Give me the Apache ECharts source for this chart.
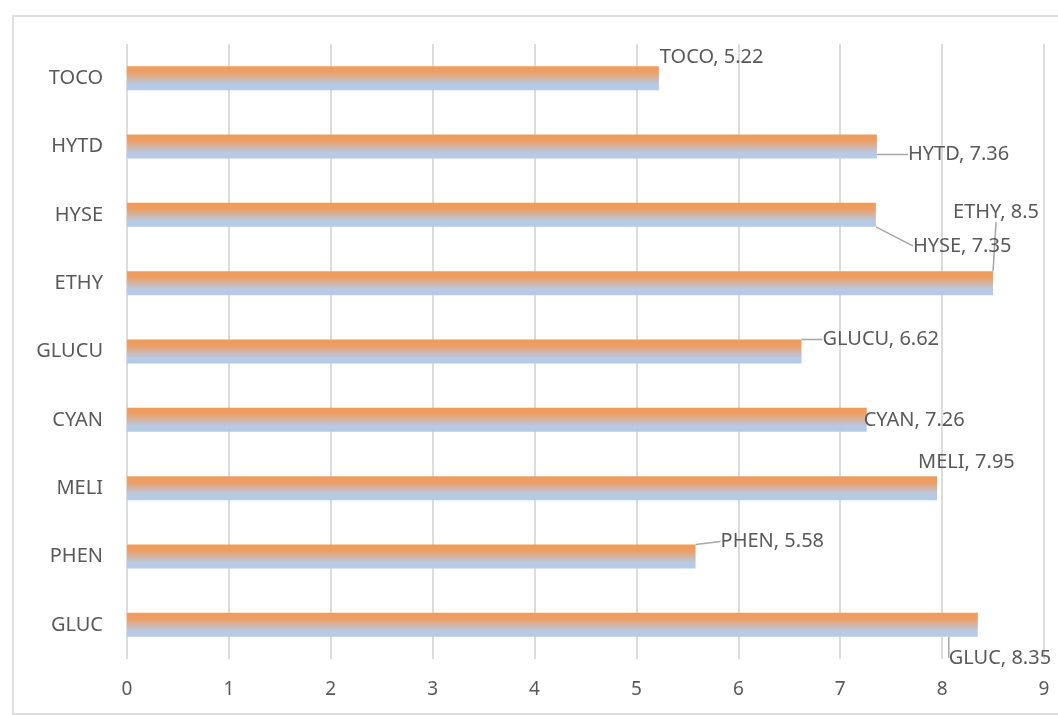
<!DOCTYPE html>
<html>
<head>
<meta charset="utf-8">
<script src="https://cdn.jsdelivr.net/npm/echarts@6/dist/echarts.min.js"></script>
<style>
    html, body { margin: 0; padding: 0; background: #fff; }
    #frame { position: absolute; left: 12px; top: 15px; width: 1060px; height: 696px; border: 2px solid #dedede; }
    #chart { position: absolute; left: 0; top: 0; width: 1058px; height: 715px; }
</style>
</head>
<body>
<div id="frame"></div>
<div id="chart"></div>
<script>
var categories = ['GLUC', 'PHEN', 'MELI', 'CYAN', 'GLUCU', 'ETHY', 'HYSE', 'HYTD', 'TOCO'];
var values = [8.35, 5.58, 7.95, 7.26, 6.62, 8.5, 7.35, 7.36, 5.22];
var xTicks = [0, 1, 2, 3, 4, 5, 6, 7, 8, 9];

// label shifts (dx, dy) from the default 'right' spot, and whether a leader line shows
var labelShift = {
    GLUC: [-34, 33, true],
    PHEN: [20, -15, true],
    MELI: [-24, -26, false],
    CYAN: [-8, 0, false],
    GLUCU: [16, -12, true],
    ETHY: [-45, -71, true],
    HYSE: [32, 31, true],
    HYTD: [26, 8, true],
    TOCO: [-4, -21, false]
};

var myChart = echarts.init(document.getElementById('chart'));
var textFont = 'Noto Sans';
var barData = values.map(function (v, i) {
    return {
        value: v,
        labelLine: { show: labelShift[categories[i]][2] }
    };
});
var option = {
    animation: false,
    grid: {
        left: 127,
        right: 14,
        top: 44,
        bottom: 56
    },
    xAxis: {
        type: 'value',
        min: xTicks[0],
        max: xTicks[xTicks.length - 1],
        interval: 1,
        axisLine: { show: false },
        axisTick: { show: false },
        axisLabel: {
            color: '#595959',
            fontFamily: textFont,
            fontSize: 19,
            margin: 21
        },
        splitLine: {
            lineStyle: { color: '#dcdcdc', width: 2 }
        }
    },
    yAxis: {
        type: 'category',
        data: categories,
        axisLine: { show: false },
        axisTick: { show: false },
        axisLabel: {
            color: '#595959',
            fontFamily: textFont,
            fontSize: 20,
            margin: 24
        }
    },
    series: [
        {
            type: 'bar',
            data: barData,
            barWidth: 24,
            itemStyle: {
                color: new echarts.graphic.LinearGradient(0, 0, 0, 1, [
                    { offset: 0, color: '#ef9c5c' },
                    { offset: 0.25, color: '#ee9e62' },
                    { offset: 0.75, color: '#b8c9e3' },
                    { offset: 1, color: '#b3cbea' }
                ])
            },
            label: {
                show: true,
                position: 'right',
                distance: 5,
                color: '#595959',
                fontFamily: textFont,
                fontSize: 20,
                formatter: function (p) {
                    return p.name + ', ' + p.value;
                }
            },
            labelLine: {
                show: true,
                lineStyle: { color: '#a6a6a6', width: 1.5 }
            },
            labelLayout: function (p) {
                var s = labelShift[categories[p.dataIndex]];
                return { dx: s[0], dy: s[1] };
            }
        }
    ]
};
myChart.setOption(option);
window.onresize = function () {
    myChart.resize();
};
</script>
</body>
</html>
